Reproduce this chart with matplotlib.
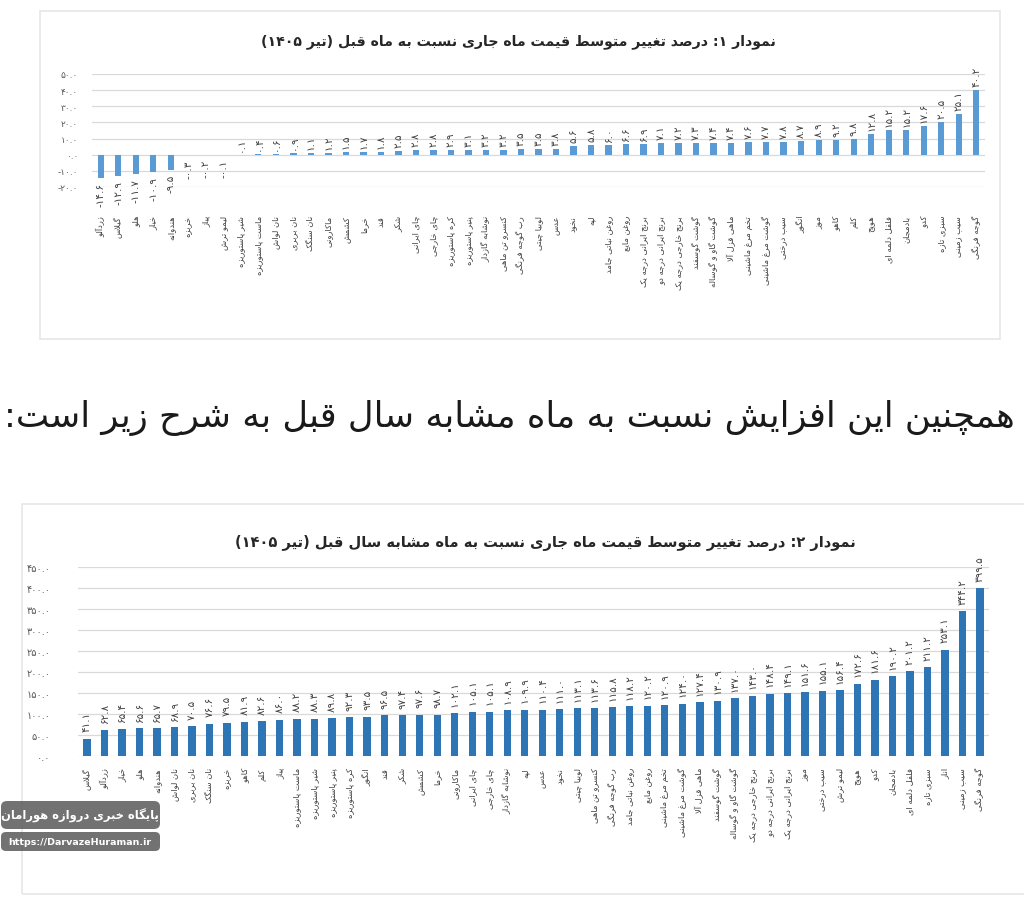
import re
import numpy as np
import matplotlib
matplotlib.use('Agg')
import matplotlib.pyplot as plt
from matplotlib.patches import Rectangle, FancyBboxPatch

plt.rcParams['font.family'] = ['DejaVu Sans']

# ---- data: chart 1 (change vs previous month) ----
names_1 = ['زردآلو', 'گیلاس', 'هلو', 'خیار', 'هندوانه', 'خربزه', 'پیاز', 'لیمو ترش',
           'شیر پاستوریزه', 'ماست پاستوریزه', 'نان لواش', 'نان بربری', 'نان سنگک', 'ماکارونی',
           'کشمش', 'خرما', 'قند', 'شکر', 'چای ایرانی', 'چای خارجی', 'کره پاستوریزه',
           'پنیر پاستوریزه', 'نوشابه گازدار', 'کنسرو تن ماهی', 'رب گوجه فرنگی', 'لوبیا چیتی',
           'عدس', 'نخود', 'لپه', 'روغن نباتی جامد', 'روغن مایع', 'برنج ایرانی درجه یک',
           'برنج ایرانی درجه دو', 'برنج خارجی درجه یک', 'گوشت گوسفند', 'گوشت گاو و گوساله',
           'ماهی قزل آلا', 'تخم مرغ ماشینی', 'گوشت مرغ ماشینی', 'سیب درختی', 'انگور', 'موز',
           'کاهو', 'کلم', 'هویج', 'فلفل دلمه ای', 'بادمجان', 'کدو', 'سبزی تازه', 'سیب زمینی',
           'گوجه فرنگی']
values_1 = [-14.6, -12.9, -11.7, -10.9, -9.5, -0.3, -0.2, -0.1,
            0.1, 0.4, 0.6, 0.9, 1.1, 1.2, 1.5, 1.7, 1.8, 2.5, 2.8, 2.8, 2.9, 3.1, 3.2, 3.2,
            3.5, 3.5, 3.8, 5.6, 5.8, 6.0, 6.6, 6.9, 7.1, 7.2, 7.3, 7.4, 7.4, 7.6, 7.7, 7.8,
            8.7, 8.9, 9.2, 9.8, 12.8, 15.2, 15.2, 17.6, 20.5, 25.1, 40.2]
ticks_1 = [-20, -10, 0, 10, 20, 30, 40, 50]

# ---- data: chart 2 (change vs same month last year) ----
names_2 = ['گیلاس', 'زردآلو', 'خیار', 'هلو', 'هندوانه', 'نان لواش', 'نان بربری', 'نان سنگک',
           'خربزه', 'کاهو', 'کلم', 'پیاز', 'ماست پاستوریزه', 'شیر پاستوریزه', 'پنیر پاستوریزه',
           'کره پاستوریزه', 'انگور', 'قند', 'شکر', 'کشمش', 'خرما', 'ماکارونی', 'چای ایرانی',
           'چای خارجی', 'نوشابه گازدار', 'لپه', 'عدس', 'نخود', 'لوبیا چیتی', 'کنسرو تن ماهی',
           'رب گوجه فرنگی', 'روغن نباتی جامد', 'روغن مایع', 'تخم مرغ ماشینی', 'گوشت مرغ ماشینی',
           'ماهی قزل آلا', 'گوشت گوسفند', 'گوشت گاو و گوساله', 'برنج خارجی درجه یک',
           'برنج ایرانی درجه دو', 'برنج ایرانی درجه یک', 'موز', 'سیب درختی', 'لیمو ترش', 'هویج',
           'کدو', 'بادمجان', 'فلفل دلمه ای', 'سبزی تازه', 'انار', 'سیب زمینی', 'گوجه فرنگی']
values_2 = [41.1, 62.8, 65.4, 65.6, 65.7, 68.9, 70.5, 76.6, 79.5, 81.9, 82.6, 86.0, 88.2,
            88.3, 89.8, 92.3, 93.5, 96.5, 97.4, 97.6, 98.7, 102.1, 105.1, 105.1, 108.9,
            109.9, 110.4, 111.0, 113.1, 113.6, 115.8, 118.2, 120.2, 120.9, 124.0, 127.4,
            130.9, 137.0, 143.0, 148.4, 149.1, 151.6, 155.1, 156.4, 172.6, 181.6, 190.2,
            201.2, 211.2, 253.1, 344.2, 399.5]
ticks_2 = [0, 50, 100, 150, 200, 250, 300, 350, 400, 450]

title_1 = 'نمودار ۱: درصد تغییر متوسط قیمت ماه جاری نسبت به ماه قبل (تیر ۱۴۰۵)'
title_2 = 'نمودار ۲: درصد تغییر متوسط قیمت ماه جاری نسبت به ماه مشابه سال قبل (تیر ۱۴۰۵)'
sentence = 'همچنین این افزایش نسبت به ماه مشابه سال قبل به شرح زیر است:'
brand = 'پایگاه خبری دروازه هورامان'
url = 'https://DarvazeHuraman.ir'

# ---- minimal arabic/persian shaping (no bidi lib available) ----
# isolated, final, initial, medial
FORMS = {
    'ا': ('\uFE8D', '\uFE8E', None, None), 'آ': ('\uFE81', '\uFE82', None, None),
    'ب': ('\uFE8F', '\uFE90', '\uFE91', '\uFE92'), 'پ': ('\uFB56', '\uFB57', '\uFB58', '\uFB59'),
    'ت': ('\uFE95', '\uFE96', '\uFE97', '\uFE98'), 'ث': ('\uFE99', '\uFE9A', '\uFE9B', '\uFE9C'),
    'ج': ('\uFE9D', '\uFE9E', '\uFE9F', '\uFEA0'), 'چ': ('\uFB7A', '\uFB7B', '\uFB7C', '\uFB7D'),
    'ح': ('\uFEA1', '\uFEA2', '\uFEA3', '\uFEA4'), 'خ': ('\uFEA5', '\uFEA6', '\uFEA7', '\uFEA8'),
    'د': ('\uFEA9', '\uFEAA', None, None), 'ذ': ('\uFEAB', '\uFEAC', None, None),
    'ر': ('\uFEAD', '\uFEAE', None, None), 'ز': ('\uFEAF', '\uFEB0', None, None),
    'ژ': ('\uFB8A', '\uFB8B', None, None),
    'س': ('\uFEB1', '\uFEB2', '\uFEB3', '\uFEB4'), 'ش': ('\uFEB5', '\uFEB6', '\uFEB7', '\uFEB8'),
    'ص': ('\uFEB9', '\uFEBA', '\uFEBB', '\uFEBC'), 'ض': ('\uFEBD', '\uFEBE', '\uFEBF', '\uFEC0'),
    'ط': ('\uFEC1', '\uFEC2', '\uFEC3', '\uFEC4'), 'ظ': ('\uFEC5', '\uFEC6', '\uFEC7', '\uFEC8'),
    'ع': ('\uFEC9', '\uFECA', '\uFECB', '\uFECC'), 'غ': ('\uFECD', '\uFECE', '\uFECF', '\uFED0'),
    'ف': ('\uFED1', '\uFED2', '\uFED3', '\uFED4'), 'ق': ('\uFED5', '\uFED6', '\uFED7', '\uFED8'),
    'ک': ('\uFB8E', '\uFB8F', '\uFB90', '\uFB91'), 'گ': ('\uFB92', '\uFB93', '\uFB94', '\uFB95'),
    'ل': ('\uFEDD', '\uFEDE', '\uFEDF', '\uFEE0'), 'م': ('\uFEE1', '\uFEE2', '\uFEE3', '\uFEE4'),
    'ن': ('\uFEE5', '\uFEE6', '\uFEE7', '\uFEE8'), 'و': ('\uFEED', '\uFEEE', None, None),
    'ه': ('\uFEE9', '\uFEEA', '\uFEEB', '\uFEEC'), 'ی': ('\uFBFC', '\uFBFD', '\uFBFE', '\uFBFF'),
    'ئ': ('\uFE89', '\uFE8A', '\uFE8B', '\uFE8C'),
}
LAMALEF = {'ا': ('\uFEFB', '\uFEFC'), 'آ': ('\uFEF5', '\uFEF6')}
MIRROR = {'(': ')', ')': '('}


def joins_next(c):
    return c in FORMS and FORMS[c][2] is not None


def shape(text):
    out = []
    i = 0
    n = len(text)
    while i < n:
        c = text[i]
        if c not in FORMS:
            out.append(c)
            i += 1
            continue
        conn_prev = i > 0 and joins_next(text[i - 1])
        if c == 'ل' and i + 1 < n and text[i + 1] in LAMALEF:
            lig = LAMALEF[text[i + 1]]
            out.append(lig[1] if conn_prev else lig[0])
            i += 2
            continue
        conn_next = i + 1 < n and text[i + 1] in FORMS and joins_next(c)
        isol, fina, init, medi = FORMS[c]
        if conn_prev and conn_next:
            out.append(medi)
        elif conn_prev:
            out.append(fina)
        elif conn_next:
            out.append(init)
        else:
            out.append(isol)
        i += 1
    return ''.join(out)


def rtl(text):
    s = shape(text)
    toks = re.findall(r'[0-9۰-۹A-Za-z][0-9۰-۹A-Za-z.]*[0-9۰-۹A-Za-z]|[0-9۰-۹A-Za-z]|.', s)
    return ''.join(MIRROR.get(t, t) for t in reversed(toks))


FA = str.maketrans('0123456789', '۰۱۲۳۴۵۶۷۸۹')


def fa(v):
    s = f'{abs(v):.1f}'.translate(FA)
    return ('-' + s) if v < 0 else s


W, H = 1024, 903
fig = plt.figure(figsize=(W / 100, H / 100), dpi=100)
fig.patch.set_facecolor('white')


def fx(px):
    return px / W


def fy(py):
    return 1 - py / H


# panel frames
fig.patches.append(Rectangle((fx(40), fy(340)), fx(960), (340 - 12) / H, transform=fig.transFigure,
                             fill=False, edgecolor='#e6e6e6', linewidth=1.2))
fig.patches.append(Rectangle((fx(22), fy(895)), fx(1010), (895 - 505) / H, transform=fig.transFigure,
                             fill=False, edgecolor='#e6e6e6', linewidth=1.2))


def draw(ax, names, vals, ticks, color, bw, lab_off, tick_pad, ypad, yfs):
    x = np.arange(len(vals))
    ax.bar(x, vals, width=bw, color=color, zorder=3)
    ax.set_xlim(-0.5, len(vals) - 0.5)
    ax.set_ylim(ticks[0], ticks[-1])
    ax.set_yticks(ticks)
    ax.set_yticklabels([fa(t) for t in ticks], fontsize=yfs, color='#595959')
    ax.yaxis.grid(True, color='#d9d9d9', linewidth=0.9, zorder=0)
    ax.set_axisbelow(True)
    for s in ax.spines.values():
        s.set_visible(False)
    ax.tick_params(axis='both', length=0)
    ax.tick_params(axis='y', pad=ypad)
    ax.set_xticks(x)
    ax.set_xticklabels([rtl(n) for n in names], rotation=90, fontsize=6, color='#404040',
                       va='top', ha='center')
    ax.tick_params(axis='x', pad=tick_pad)
    for xi, v in zip(x, vals):
        if v >= 0:
            ax.text(xi, v + lab_off, fa(v), rotation=90, ha='center', va='bottom',
                    fontsize=7.5, color='#404040')
        else:
            ax.text(xi, v - lab_off, fa(v), rotation=90, ha='center', va='top',
                    fontsize=7.5, color='#404040')


ax1 = fig.add_axes([fx(92), fy(188), fx(893), (188 - 75) / H])
draw(ax1, names_1, values_1, ticks_1, '#5b9bd5', 0.36, 2.5, 20, 10, 6.5)
fig.text(fx(518), fy(42), rtl(title_1), ha='center', va='center', fontsize=10.2,
         fontweight='bold', color='#262626')

fig.text(fx(1015), fy(418), rtl(sentence), ha='right', va='center', fontsize=25.5, color='#1a1a1a')

ax2 = fig.add_axes([fx(78.25), fy(757), fx(910.5), (757 - 568) / H])
draw(ax2, names_2, values_2, ticks_2, '#2e75b6', 0.42, 18, 8, 20, 7)
fig.text(fx(545), fy(543), rtl(title_2), ha='center', va='center', fontsize=10.5,
         fontweight='bold', color='#262626')

# watermark
fig.patches.append(FancyBboxPatch((fx(1), fy(830)), fx(159), 28 / H, transform=fig.transFigure,
                                  boxstyle='round,pad=0,rounding_size=0.006',
                                  facecolor='#5e5e5e', edgecolor='none', alpha=0.88))
fig.patches.append(FancyBboxPatch((fx(1), fy(852)), fx(159), 19 / H, transform=fig.transFigure,
                                  boxstyle='round,pad=0,rounding_size=0.005',
                                  facecolor='#5e5e5e', edgecolor='none', alpha=0.88))
fig.text(fx(80), fy(816), rtl(brand), ha='center', va='center', fontsize=8.3,
         fontweight='bold', color='white')
fig.text(fx(80), fy(842.5), url, ha='center', va='center', fontsize=6.8, fontweight='bold',
         color='white')

fig.savefig('out.png', dpi=100, facecolor='white')
